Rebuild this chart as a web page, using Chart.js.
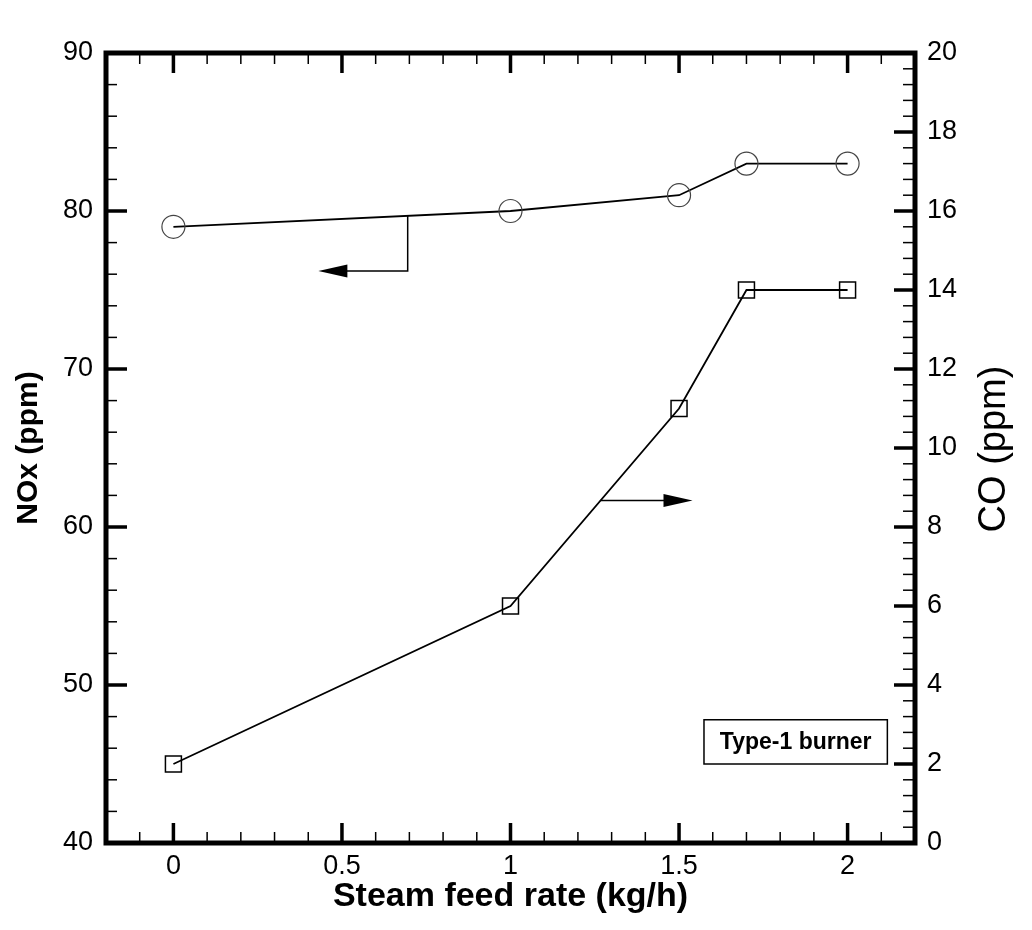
<!DOCTYPE html>
<html>
<head>
<meta charset="utf-8">
<script src="https://cdn.jsdelivr.net/npm/chart.js@4/dist/chart.umd.min.js"></script>
<style>
  html, body { margin: 0; padding: 0; background: #fff; }
  #wrap { width: 1032px; height: 930px; }
</style>
</head>
<body>
<div id="wrap"><canvas id="myChart" width="1032" height="930"></canvas></div>
<script>
// values
const steamRate = [0, 1, 1.5, 1.7, 2]
const noxPpm = [79, 80, 81, 83, 83]
const coPpm = [2, 6, 11, 14, 14]

const xTicks = [0, 0.5, 1, 1.5, 2]
const noxTicks = [40, 50, 60, 70, 80, 90]
const coTicks = [0, 2, 4, 6, 8, 10, 12, 14, 16, 18, 20]

// minor tick spacing
const xMinor = 0.1
const noxMinor = 2
const coMinor = 0.4

// annotations (data coordinates)
const noxArrow = [0.695, 76.2, 0.43]   // x on curve, y of elbow, tip x
const coArrow = [1.267, 1.54]          // x on curve, tip x
const legendBox = [1.574, 2.118, 47.8, 45.0]

const FONT = "'Liberation Sans', Arial, sans-serif"

function pts(xs, ys) {
    return xs.map((x, i) => ({ x: x, y: ys[i] }))
}

function interp(xs, ys, x) {
    for (let i = 0; i < xs.length - 1; i++) {
        if (x >= xs[i] && x <= xs[i + 1]) {
            return ys[i] + (ys[i + 1] - ys[i]) * (x - xs[i]) / (xs[i + 1] - xs[i])
        }
    }
    return ys[ys.length - 1]
}

function arrowHead(ctx, tipX, tipY, dir) {
    // dir: -1 points left, 1 points right
    ctx.beginPath()
    ctx.moveTo(tipX, tipY)
    ctx.lineTo(tipX - dir * 29, tipY - 6.5)
    ctx.lineTo(tipX - dir * 29, tipY + 6.5)
    ctx.closePath()
    ctx.fill()
}

function ticksAlong(ctx, scale, min, max, step, majors, draw) {
    const n = Math.round((max - min) / step)
    for (let i = 0; i <= n; i++) {
        const v = +(min + i * step).toFixed(6)
        const isMajor = majors.some(m => Math.abs(m - v) < 1e-6)
        draw(scale.getPixelForValue(v), isMajor)
    }
}

const framePlugin = {
    id: 'frame',
    afterDatasetsDraw(chart) {
        const ctx = chart.ctx
        const x = chart.scales.x, yl = chart.scales.y, yr = chart.scales.y1
        ctx.save()
        ctx.strokeStyle = '#000'
        ctx.fillStyle = '#000'
        ctx.lineWidth = 1.5

        // arrow towards the NOx axis
        const ax = x.getPixelForValue(noxArrow[0])
        const ay0 = yl.getPixelForValue(interp(steamRate, noxPpm, noxArrow[0]))
        const ay1 = yl.getPixelForValue(noxArrow[1])
        const atip = x.getPixelForValue(noxArrow[2])
        ctx.beginPath()
        ctx.moveTo(ax, ay0)
        ctx.lineTo(ax, ay1)
        ctx.lineTo(atip + 20, ay1)
        ctx.stroke()
        arrowHead(ctx, atip, ay1, -1)

        // arrow towards the CO axis
        const bx = x.getPixelForValue(coArrow[0])
        const by = yr.getPixelForValue(interp(steamRate, coPpm, coArrow[0]))
        const btip = x.getPixelForValue(coArrow[1])
        ctx.beginPath()
        ctx.moveTo(bx, by)
        ctx.lineTo(btip - 20, by)
        ctx.stroke()
        arrowHead(ctx, btip, by, 1)

        // label box
        const l = x.getPixelForValue(legendBox[0]), r = x.getPixelForValue(legendBox[1])
        const t = yl.getPixelForValue(legendBox[2]), b = yl.getPixelForValue(legendBox[3])
        ctx.fillStyle = '#fff'
        ctx.fillRect(l, t, r - l, b - t)
        ctx.strokeRect(l, t, r - l, b - t)
        ctx.fillStyle = '#000'
        ctx.font = 'bold 23px ' + FONT
        ctx.textAlign = 'center'
        ctx.textBaseline = 'middle'
        ctx.fillText('Type-1 burner', (l + r) / 2, (t + b) / 2 + 1)
        ctx.restore()
    },
    afterDraw(chart) {
        const ctx = chart.ctx
        const a = chart.chartArea
        const x = chart.scales.x, yl = chart.scales.y, yr = chart.scales.y1
        ctx.save()
        ctx.strokeStyle = '#000'
        ctx.lineCap = 'butt'

        // inward ticks, bottom and top
        ticksAlong(ctx, x, x.min, x.max, xMinor, xTicks, (p, major) => {
            ctx.lineWidth = major ? 3.5 : 1.5
            const len = major ? 20 : 11
            ctx.beginPath()
            ctx.moveTo(p, a.bottom); ctx.lineTo(p, a.bottom - len)
            ctx.moveTo(p, a.top); ctx.lineTo(p, a.top + len)
            ctx.stroke()
        })
        // left axis
        ticksAlong(ctx, yl, yl.min, yl.max, noxMinor, noxTicks, (p, major) => {
            ctx.lineWidth = major ? 3.5 : 1.5
            const len = major ? 21 : 11
            ctx.beginPath()
            ctx.moveTo(a.left, p); ctx.lineTo(a.left + len, p)
            ctx.stroke()
        })
        // right axis
        ticksAlong(ctx, yr, yr.min, yr.max, coMinor, coTicks, (p, major) => {
            ctx.lineWidth = major ? 3.5 : 1.5
            const len = major ? 21 : 12
            ctx.beginPath()
            ctx.moveTo(a.right, p); ctx.lineTo(a.right - len, p)
            ctx.stroke()
        })

        // frame
        ctx.lineWidth = 5
        ctx.strokeRect(a.left, a.top, a.right - a.left, a.bottom - a.top)

        // right axis title, reading bottom to top
        ctx.fillStyle = '#000'
        ctx.font = '38px ' + FONT
        ctx.textAlign = 'center'
        ctx.textBaseline = 'middle'
        ctx.translate(995, (a.top + a.bottom) / 2 + 1)
        ctx.rotate(-Math.PI / 2)
        ctx.fillText('CO (ppm)', 0, 0)
        ctx.restore()
    }
}

const ctx = document.getElementById('myChart')
new Chart(ctx, {
    type: 'line',
    data: {
        datasets: [{
            label: 'NOx',
            data: pts(steamRate, noxPpm),
            yAxisID: 'y',
            borderColor: '#000',
            borderWidth: 1.8,
            pointStyle: 'circle',
            pointRadius: 11.5,
            pointBorderColor: '#444',
            pointBorderWidth: 1.2,
            pointBackgroundColor: 'rgba(0,0,0,0)',
            tension: 0
        }, {
            label: 'CO',
            data: pts(steamRate, coPpm),
            yAxisID: 'y1',
            borderColor: '#000',
            borderWidth: 1.8,
            pointStyle: 'rect',
            pointRadius: 11.3,
            pointBorderColor: '#000',
            pointBorderWidth: 1.5,
            pointBackgroundColor: 'rgba(0,0,0,0)',
            tension: 0
        }]
    },
    options: {
        responsive: false,
        animation: false,
        clip: false,
        layout: { padding: { left: 0, right: 0, top: 53, bottom: 0 } },
        plugins: {
            legend: { display: false },
            tooltip: { enabled: false }
        },
        scales: {
            x: {
                type: 'linear',
                min: -0.2,
                max: 2.2,
                afterBuildTicks: s => { s.ticks = xTicks.map(v => ({ value: v })) },
                afterFit: s => { s.height = 87 },
                grid: { display: false, drawTicks: false },
                border: { display: false },
                ticks: {
                    padding: 7,
                    color: '#000',
                    font: { family: FONT, size: 27 },
                    callback: v => String(v)
                },
                title: {
                    display: true,
                    text: 'Steam feed rate (kg/h)',
                    color: '#000',
                    font: { family: FONT, size: 34, weight: 'bold', lineHeight: 1 },
                    padding: { top: 0, bottom: 16 }
                }
            },
            y: {
                position: 'left',
                min: 40,
                max: 90,
                afterBuildTicks: s => { s.ticks = noxTicks.map(v => ({ value: v })) },
                afterFit: s => { s.width = 106 },
                grid: { display: false, drawTicks: false },
                border: { display: false },
                ticks: {
                    padding: 13,
                    color: '#000',
                    font: { family: FONT, size: 27 }
                },
                title: {
                    display: true,
                    text: 'NOx (ppm)',
                    color: '#000',
                    font: { family: FONT, size: 30, weight: 'bold', lineHeight: 1 },
                    padding: { top: 14, bottom: 0 }
                }
            },
            y1: {
                position: 'right',
                min: 0,
                max: 20,
                afterBuildTicks: s => { s.ticks = coTicks.map(v => ({ value: v })) },
                afterFit: s => { s.width = 117 },
                grid: { display: false, drawTicks: false },
                border: { display: false },
                ticks: {
                    padding: 12,
                    color: '#000',
                    font: { family: FONT, size: 27 }
                },
                title: { display: false }
            }
        }
    },
    plugins: [framePlugin]
})
</script>
</body>
</html>
